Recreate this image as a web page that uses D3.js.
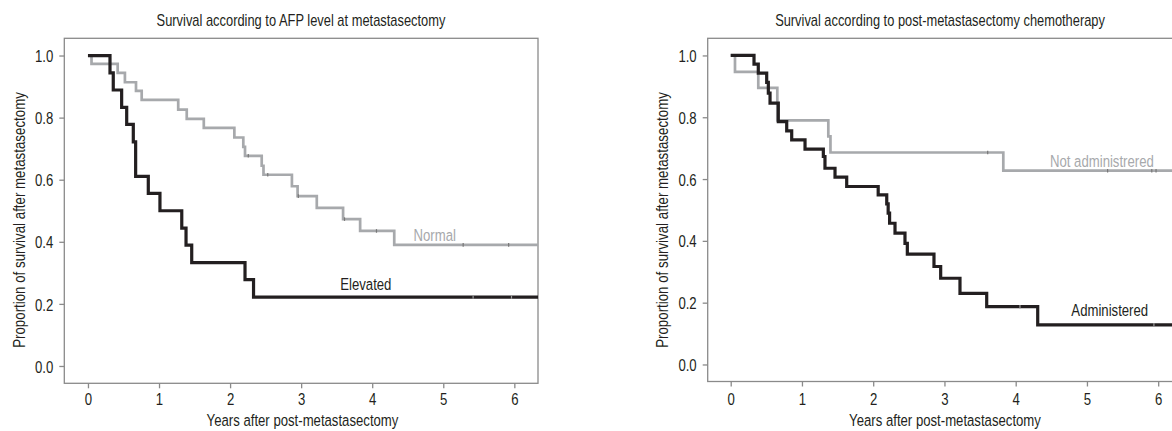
<!DOCTYPE html>
<html>
<head>
<meta charset="utf-8">
<script src="https://cdn.jsdelivr.net/npm/d3@7"></script>
<style>
  html, body { margin: 0; padding: 0; background: #fff; }
  svg { display: block; }
  text { font-family: "Liberation Sans", Arial, sans-serif; fill: #231f20; }
</style>
</head>
<body>
<svg id="chart" width="1172" height="431"></svg>
<script>
// ---------- DATA ----------
const xTickValues = [0, 1, 2, 3, 4, 5, 6];
const yTickValues = [0.0, 0.2, 0.4, 0.6, 0.8, 1.0];

const titleLeft = "Survival according to AFP level at metastasectomy";
const titleRight = "Survival according to post-metastasectomy chemotherapy";
const xAxisLabel = "Years after post-metastasectomy";
const yAxisLabel = "Proportion of survival after metastasectomy";

// Left panel: AFP level
const elevatedTimes = [0, 0.31, 0.356, 0.474, 0.545, 0.638, 0.671, 0.849, 1.013, 1.32, 1.38, 1.46, 2.21, 2.33];
const elevatedSurv  = [1.0, 0.944, 0.889, 0.833, 0.778, 0.722, 0.611, 0.556, 0.5, 0.444, 0.389, 0.333, 0.278, 0.222];
const elevatedCensor = [5.42, 5.96];

const normalTimes = [0, 0.05, 0.418, 0.52, 0.676, 0.756, 1.27, 1.39, 1.63, 2.06, 2.186, 2.21, 2.445, 2.47, 2.87, 2.95, 3.22, 3.59, 3.83, 4.31];
const normalSurv  = [1.0, 0.973, 0.944, 0.914, 0.886, 0.857, 0.826, 0.796, 0.767, 0.736, 0.706, 0.677, 0.645, 0.616, 0.579, 0.547, 0.509, 0.473, 0.435, 0.39];
const normalCensor = [2.256, 2.53, 2.96, 3.61, 4.06, 5.28, 5.92];

// Right panel: chemotherapy
const adminTimes = [0, 0.327, 0.387, 0.505, 0.528, 0.552, 0.668, 0.786, 0.856, 1.043, 1.30, 1.323, 1.464, 1.628, 2.07, 2.19, 2.21, 2.23, 2.306, 2.446, 2.479, 2.853, 2.947, 3.218, 3.593, 4.309];
const adminSurv  = [1.0, 0.972, 0.943, 0.913, 0.878, 0.846, 0.786, 0.756, 0.727, 0.697, 0.673, 0.635, 0.606, 0.576, 0.549, 0.52, 0.49, 0.457, 0.425, 0.392, 0.357, 0.317, 0.279, 0.23, 0.187, 0.128];
const adminCensor = [4.06, 5.94];

const notAdminTimes = [0, 0.06, 0.387, 0.654, 1.37, 1.40, 3.826];
const notAdminSurv  = [1.0, 0.947, 0.895, 0.79, 0.738, 0.686, 0.627];
const notAdminCensor = [3.607, 5.29, 5.91, 5.97];

// Curve labels: [text, time, survival, tone]
const leftLabels = [["Normal", 4.88, 0.403, "grey"], ["Elevated", 3.91, 0.245, "black"]];
const rightLabels = [["Not administrered", 5.21, 0.64, "grey"], ["Administered", 5.32, 0.157, "black"]];

// ---------- STYLE / LAYOUT ----------
const COL_BLACK = "#231f20";
const COL_GREY = "#a7a9ac";
const AXIS_COL = "#8a8a8a";
const CONDENSE = 0.775;

const svg = d3.select("#chart");

// horizontally condense text with a transform (emulates a condensed face)
function squeeze(el, f) {
  const x = +(el.getAttribute("x") || 0);
  const y = +(el.getAttribute("y") || 0);
  const prev = el.getAttribute("transform") || "";
  el.setAttribute("transform", `${prev} translate(${x},${y}) scale(${f.toFixed(4)},1)`.trim());
  el.setAttribute("x", 0);
  el.setAttribute("y", 0);
}
function condense(sel, factor) { sel.each(function () { squeeze(this, factor); }); }
function fitWidth(sel, target) {
  const el = sel.node();
  const w = el.getComputedTextLength();
  if (w > 0) squeeze(el, target / w);
}

function drawPanel(cfg) {
  const g = svg.append("g");
  const x = d3.scaleLinear().domain(cfg.xDomain).range([cfg.left, cfg.right]);
  const y = d3.scaleLinear().domain(cfg.yDomain).range([cfg.bottom, cfg.top]);

  // frame
  g.append("rect")
    .attr("x", cfg.left).attr("y", cfg.top)
    .attr("width", cfg.right - cfg.left).attr("height", cfg.bottom - cfg.top)
    .attr("fill", "none").attr("stroke", AXIS_COL).attr("stroke-width", 1.3);

  // x axis
  const xa = g.append("g").attr("transform", `translate(0,${cfg.bottom})`)
    .call(d3.axisBottom(x).tickValues(xTickValues).tickFormat(d3.format("d")).tickSize(5).tickPadding(4));
  xa.select(".domain").remove();
  xa.selectAll(".tick line").attr("stroke", AXIS_COL).attr("stroke-width", 1.3);
  xa.selectAll(".tick text").attr("font-size", 17).attr("font-family", null).attr("fill", COL_BLACK)
    .attr("y", cfg.xLabelBaseline - cfg.bottom).attr("dy", null);
  condense(xa.selectAll(".tick text"), CONDENSE);

  // y axis
  const ya = g.append("g").attr("transform", `translate(${cfg.left},0)`)
    .call(d3.axisLeft(y).tickValues(yTickValues).tickFormat(d3.format(".1f")).tickSize(5).tickPadding(6));
  ya.select(".domain").remove();
  ya.selectAll(".tick line").attr("stroke", AXIS_COL).attr("stroke-width", 1.3);
  ya.selectAll(".tick text").attr("font-size", 17).attr("font-family", null).attr("fill", COL_BLACK).attr("dy", "0.36em");
  condense(ya.selectAll(".tick text"), CONDENSE);

  // title
  const t = g.append("text").attr("x", cfg.titleX).attr("y", 26)
    .attr("text-anchor", "middle").attr("font-size", 16).text(cfg.title);
  fitWidth(t, cfg.titleWidth);

  // x label
  const xl = g.append("text").attr("x", cfg.xLabelX)
    .attr("y", 426).attr("text-anchor", "middle").attr("font-size", 17).text(xAxisLabel);
  fitWidth(xl, 192);

  // y label
  const yl = g.append("text")
    .attr("transform", `translate(${cfg.yLabelX},220) rotate(-90)`)
    .attr("text-anchor", "middle").attr("font-size", 17).text(yAxisLabel);
  fitWidth(yl, 256);

  // curves
  const line = d3.line().x(d => x(d[0])).y(d => y(d[1])).curve(d3.curveStepAfter);
  const xEnd = x.domain()[1];
  cfg.series.forEach(s => {
    const pts = s.times.map((tt, i) => [tt, s.surv[i]]);
    pts.push([xEnd, s.surv[s.surv.length - 1]]);
    g.append("path").datum(pts)
      .attr("fill", "none").attr("stroke", s.color).attr("stroke-width", s.width)
      .attr("stroke-linejoin", "miter").attr("d", line);
    const survAt = tt => { let v = s.surv[0]; s.times.forEach((ti, i) => { if (ti <= tt) v = s.surv[i]; }); return v; };
    g.selectAll(null).data(s.censor).enter().append("line")
      .attr("x1", d => x(d)).attr("x2", d => x(d))
      .attr("y1", d => y(survAt(d)) - 1.8).attr("y2", d => y(survAt(d)) + 1.8)
      .attr("stroke", s.censorColor).attr("stroke-width", 1.2);
  });

  // curve labels
  cfg.labels.forEach(l => {
    const lt = g.append("text").attr("x", x(l[1])).attr("y", y(l[2]))
      .attr("text-anchor", "middle").attr("font-size", 17)
      .style("fill", l[3] === "grey" ? COL_GREY : COL_BLACK)
      .text(l[0]);
    condense(lt, CONDENSE);
  });
}

drawPanel({
  left: 64.3, right: 538, top: 38.3, bottom: 383.3,
  xDomain: [-0.333, 6.333], yDomain: [-0.0558, 1.0555],
  xLabelBaseline: 405, yLabelX: 25, xLabelX: 302.5,
  title: titleLeft, titleX: 301, titleWidth: 289,
  series: [
    { times: normalTimes, surv: normalSurv, censor: normalCensor, color: COL_GREY, width: 2.7, censorColor: "#777" },
    { times: elevatedTimes, surv: elevatedSurv, censor: elevatedCensor, color: COL_BLACK, width: 3.2, censorColor: "#999" }
  ],
  labels: leftLabels
});

drawPanel({
  left: 707.7, right: 1181.7, top: 38.3, bottom: 381.5,
  xDomain: [-0.323, 6.33], yDomain: [-0.0551, 1.0555],
  xLabelBaseline: 405, yLabelX: 668, xLabelX: 945,
  title: titleRight, titleX: 940, titleWidth: 330,
  series: [
    { times: notAdminTimes, surv: notAdminSurv, censor: notAdminCensor, color: COL_GREY, width: 2.7, censorColor: "#777" },
    { times: adminTimes, surv: adminSurv, censor: adminCensor, color: COL_BLACK, width: 3.2, censorColor: "#999" }
  ],
  labels: rightLabels
});
</script>
</body>
</html>
